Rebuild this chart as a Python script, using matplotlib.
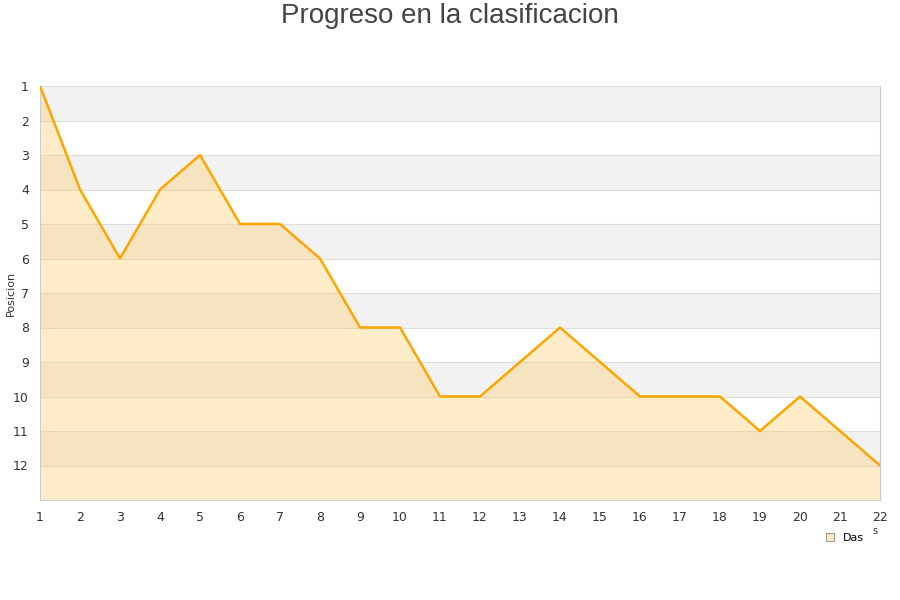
import matplotlib
matplotlib.use("Agg")
import matplotlib.pyplot as plt
from matplotlib.patches import Patch

rounds = list(range(1, 23))
positions = [1, 4, 6, 4, 3, 5, 5, 6, 8, 8, 10, 10, 9, 8, 9, 10, 10, 10, 11, 10, 11, 12]
yticks = list(range(1, 13))
series_name = "Das"
title = "Progreso en la clasificacion"
ylabel = "Posicion"

fig = plt.figure(figsize=(9, 6), dpi=100)
ax = fig.add_axes([40/900, 100/600, 840/900, 414/600])

ymin, ymax = 1, 13
for i in range(ymin, ymax):
    if (i - ymin) % 2 == 0:
        ax.axhspan(i, i + 1, color="#f2f2f2", zorder=0, lw=0)
for i in range(ymin, ymax + 1):
    ax.axhline(i, color="#dddddd", lw=0.8, zorder=1)

ax.fill_between(rounds, positions, ymax, color="#ffcc66", alpha=0.35, lw=0, zorder=2)
ax.plot(rounds, positions, color="#ffa500", lw=1.8, zorder=3, label=series_name)

ax.set_xlim(1, 22)
ax.set_ylim(ymax, ymin)
ax.set_yticks(yticks)
ax.set_xticks(rounds)
ax.tick_params(axis="both", length=0, labelsize=9, colors="#333333", pad=8)
ax.spines["top"].set_visible(False)
for s in ["left", "bottom", "right"]:
    ax.spines[s].set_color("#cccccc")

fig.text(11/900, 1 - 293/600, ylabel, fontsize=8, color="#333333",
         rotation=90, ha="center", va="center")

fig.text(0.5, 1 - 16/600, title, fontsize=20, color="#444444",
         family=["Liberation Sans", "DejaVu Sans"], ha="center", va="center")

h = Patch(facecolor="#ffe9c0", edgecolor="#888888", lw=0.6)
ax.legend([h], [series_name], loc="upper right", bbox_to_anchor=(0.993, -0.055),
          frameon=False, fontsize=8, handlelength=0.7, handleheight=0.7, handletextpad=0.8)
fig.text(875/900, 1 - 531/600, "s", fontsize=7, color="#333333", ha="center", va="center")

fig.savefig("out.png", dpi=100)
